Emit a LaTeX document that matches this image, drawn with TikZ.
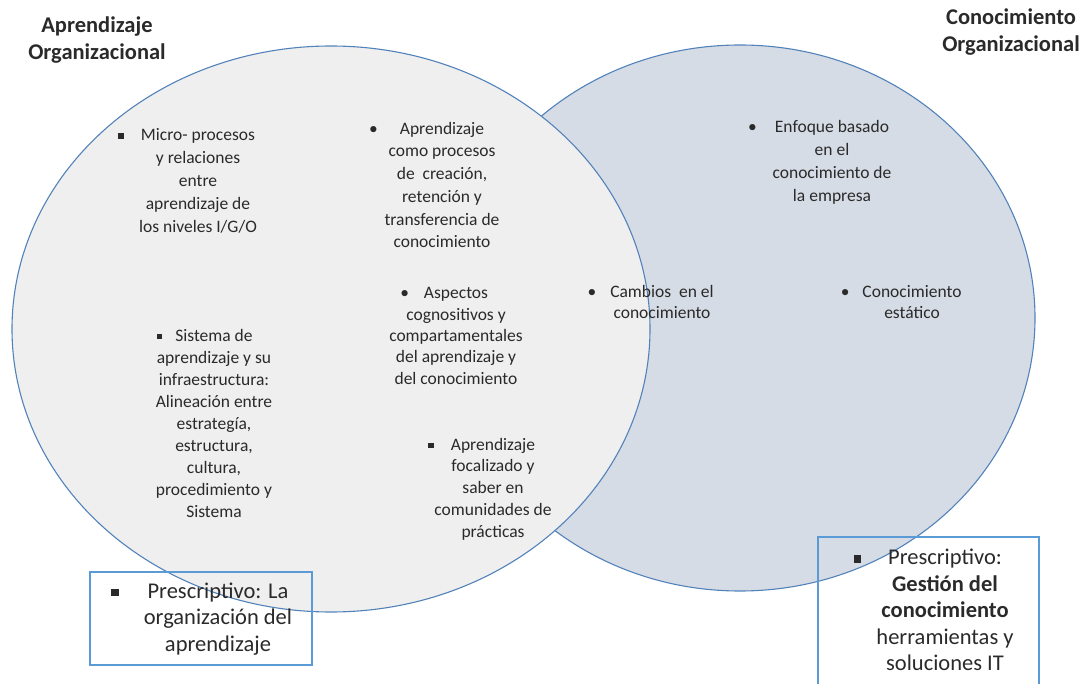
\documentclass[tikz,border=0pt]{standalone}
\usepackage{fontspec}
\setmainfont{Carlito}
\usetikzlibrary{positioning}
\definecolor{cline}{HTML}{5282BA}
\definecolor{cbox}{HTML}{5B9BD5}
\definecolor{cleft}{HTML}{EFEFEF}
\definecolor{cright}{HTML}{D6DCE5}
\definecolor{ctext}{HTML}{2A2A2A}
\newcommand\rbul[1][16pt]{\llap{\textbullet\hspace{#1}}}
\newcommand\sbul[1][16pt]{\llap{\rule[0.2ex]{0.32em}{0.32em}\hspace{#1}}}
\tikzset{
  every picture/.style={line width=1.1pt},
  set/.style={draw=cline, fill=#1},
  item/.style={align=center, text=ctext, inner sep=0pt, font=\fontsize{17.5}{22}\selectfont},
  title/.style={align=center, text=ctext, inner sep=0pt, font=\fontsize{22.5}{26.5}\selectfont\bfseries},
  boxtext/.style={align=center, text=ctext, inner sep=0pt, font=\fontsize{22.5}{26.5}\selectfont},
  frame/.style={draw=cbox, line width=1.3pt, inner sep=0pt},
}
\begin{document}
\begin{tikzpicture}[x=1pt, y=-1pt]
  \useasboundingbox (0,0) rectangle (1089,684);
  % the two sets: the left one lies on top of the right one
  \draw[set=cright] (740,318) ellipse [x radius=295, y radius=273];
  \draw[set=cleft] (331,329) ellipse [x radius=319, y radius=283];
  % titles
  \node[title] (tleft) at (97,40) {Aprendizaje\\Organizacional};
  \node[title] (tright) at (1011,32) {Conocimiento\\Organizacional};
  % items of the left set
  \node[item, font=\fontsize{17.5}{23}\selectfont] (micro) at (198,181)
    {\sbul[17pt]Micro- procesos\\y relaciones\\entre\\aprendizaje de\\los niveles I/G/O};
  \node[item, font=\fontsize{17.5}{22.7}\selectfont] (procesos) at (442,185)
    {\rbul[22pt]Aprendizaje\\como procesos\\de \ creación,\\retención y\\transferencia de\\conocimiento};
  \node[item] (sistema) at (214,423)
    {\sbul[13pt]Sistema de\\aprendizaje y su\\infraestructura:\\Alineación entre\\estrategía,\\estructura,\\cultura,\\procedimiento y\\Sistema};
  % items in the overlap
  \node[item, font=\fontsize{17.5}{21.3}\selectfont] (aspectos) at (456,336)
    {\rbul[15pt]Aspectos\\cognositivos y\\compartamentales\\del aprendizaje y\\del conocimiento};
  \node[item, font=\fontsize{17.5}{21.8}\selectfont] (focal) at (493,489)
    {\sbul[17pt]Aprendizaje\\focalizado y\\saber en\\comunidades de\\prácticas};
  % items of the right set
  \node[item, font=\fontsize{17.5}{23}\selectfont] (enfoque) at (832,162)
    {\rbul[18pt]Enfoque basado\\en el\\conocimiento de\\la empresa};
  \node[item, font=\fontsize{17.5}{21}\selectfont] (cambios) at (662,302)
    {\rbul[14pt]Cambios \ en el\\conocimiento};
  \node[item, font=\fontsize{17.5}{21}\selectfont] (estatico) at (912,302)
    {\rbul[13pt]Conocimiento\\estático};
  % prescriptive boxes
  \node[frame, minimum width=222, minimum height=93] (lbox) at (201,618.5) {};
  \node[boxtext] (ltext) at (218,619)
    {\sbul[29pt]Prescriptivo: La\\organización del\\aprendizaje};
  \node[frame, minimum width=221, minimum height=170] (rbox) at (928.5,622) {};
  \node[boxtext] (rtext) at (945,610)
    {\sbul[27pt]Prescriptivo:\\\textbf{Gestión del}\\\textbf{conocimiento}\\herramientas y\\soluciones IT};
\end{tikzpicture}
\end{document}
